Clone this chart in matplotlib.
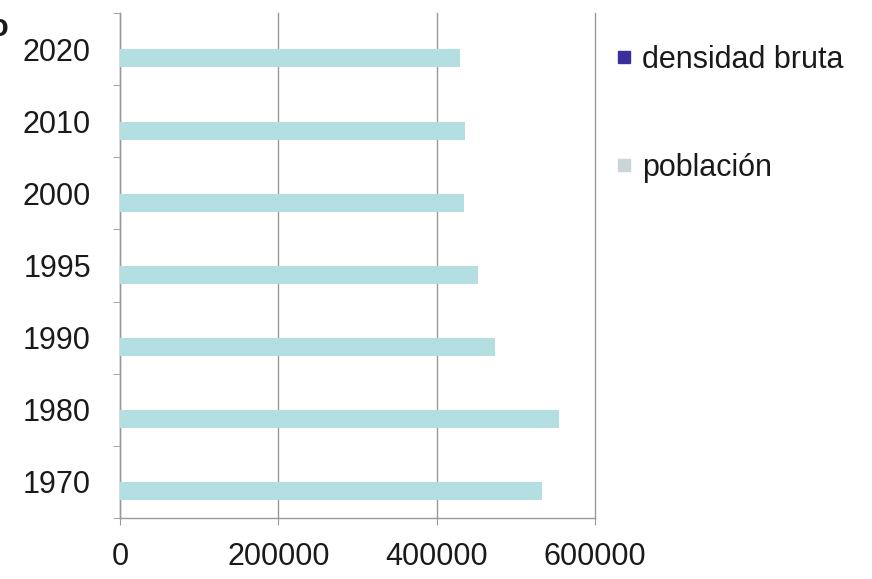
import matplotlib
matplotlib.use("Agg")
import matplotlib.pyplot as plt
import numpy as np
from matplotlib.lines import Line2D

plt.rcParams['font.family'] = ['Liberation Sans', 'DejaVu Sans']

years = ["1970", "1980", "1990", "1995", "2000", "2010", "2020"]
densidad_bruta = [0, 0, 0, 0, 0, 0, 0]
poblacion = [533000, 555000, 474000, 452000, 434000, 436000, 429000]
x_ticks = [0, 200000, 400000, 600000]
x_ticklabels = ["0", "200000", "400000", "600000"]

fig = plt.figure(figsize=(8.72, 5.79), dpi=100)
ax = fig.add_axes([120/872, 1-518/579, (595-120)/872, (518-13)/579])

y = np.arange(len(years))
h = 0.25
off = 0.13
ax.barh(y - off + h, densidad_bruta, height=h, color='#3a2f9a', zorder=3)
ax.barh(y - off, poblacion, height=h, color='#b3dfe2', zorder=3)

ax.set_xlim(0, 600000)
ax.set_ylim(-0.5, len(years) - 0.5)
ax.set_xticks(x_ticks)
ax.set_xticklabels(x_ticklabels, fontsize=22, color='#1a1a1a')
ax.set_yticks(y)
ax.set_yticklabels(years, fontsize=22, color='#1a1a1a')
ax.set_yticks(np.arange(-0.5, len(years)), minor=True)
ax.tick_params(axis='y', which='major', length=0, pad=21)
ax.tick_params(axis='y', which='minor', length=5, color='#999999')
ax.tick_params(axis='x', which='major', length=5, color='#999999', pad=12)
ax.grid(axis='x', color='#999999', lw=1, zorder=1)
for gl in ax.get_xgridlines():
    gl.set_clip_on(False)
for s in ['top', 'right']:
    ax.spines[s].set_visible(False)
for s in ['left', 'bottom']:
    ax.spines[s].set_color('#999999')
    ax.spines[s].set_linewidth(1)

handles = [Line2D([], [], marker='s', linestyle='none', markersize=8, color='#3a2f9a'),
           Line2D([], [], marker='s', linestyle='none', markersize=8, color='#c9d6d6')]
leg = fig.legend(handles, ["densidad bruta", "población"], loc='upper left',
                 bbox_to_anchor=(616/872, 1-45/579), frameon=False, fontsize=22,
                 handlelength=0.5, handletextpad=0.35,
                 labelspacing=2.55, borderaxespad=0, borderpad=0)
for t in leg.get_texts():
    t.set_color('#1a1a1a')

fig.text(-0.012, 1-28/579, "o", fontsize=22, fontweight='bold', va='center', ha='left', color='#1a1a1a')

fig.savefig("out.png", dpi=100)
